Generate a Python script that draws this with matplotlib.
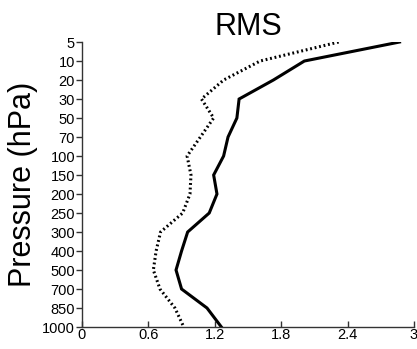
import matplotlib
matplotlib.use("Agg")
import matplotlib.pyplot as plt

# pressure levels (hPa), plotted as evenly spaced categories
levels = ["5", "10", "20", "30", "50", "70", "100", "150", "200", "250",
          "300", "400", "500", "700", "850", "1000"]

# RMS profiles
rms_solid = [2.87, 2.01, 1.73, 1.42, 1.40, 1.32, 1.28, 1.19, 1.22, 1.15,
             0.955, 0.90, 0.85, 0.90, 1.13, 1.26]
rms_dotted = [2.32, 1.61, 1.28, 1.08, 1.19, 1.07, 0.95, 0.985, 0.976, 0.91,
              0.71, 0.67, 0.645, 0.705, 0.84, 0.92]

xticks = [0, 0.6, 1.2, 1.8, 2.4, 3]
xticklabels = ["0", "0.6", "1.2", "1.8", "2.4", "3"]

plt.rcParams["font.family"] = ["Liberation Sans", "DejaVu Sans"]

fig = plt.figure(figsize=(4.17, 3.49), dpi=100)
ax = fig.add_axes([0.1966, 0.063, 0.796, 0.8166])

pos = list(range(len(levels)))
ax.plot(rms_solid, pos, color="black", lw=2.2, solid_joinstyle="miter")
ax.plot(rms_dotted, pos, color="black", lw=2.2, linestyle=(0, (0.6, 0.9)),
        dash_capstyle="butt")

ax.set_xlim(0, 3)
ax.set_ylim(len(levels) - 1, 0)
ax.set_yticks(pos)
ax.set_yticklabels(levels)
ax.set_xticks(xticks)
ax.set_xticklabels(xticklabels)

for side in ["top", "right"]:
    ax.spines[side].set_visible(False)
for side in ["left", "bottom"]:
    ax.spines[side].set_linewidth(1.0)
    ax.spines[side].set_color("#333333")

ax.tick_params(axis="y", direction="out", length=4, width=1, pad=1,
               labelsize=10.5, color="#333333")
ax.tick_params(axis="x", direction="in", length=4, width=1, pad=1,
               labelsize=10.5, color="#333333")

ax.set_title("RMS", fontsize=22, pad=5)
ax.set_ylabel("Pressure (hPa)", fontsize=22, labelpad=3)

fig.savefig("out.png", dpi=100)
